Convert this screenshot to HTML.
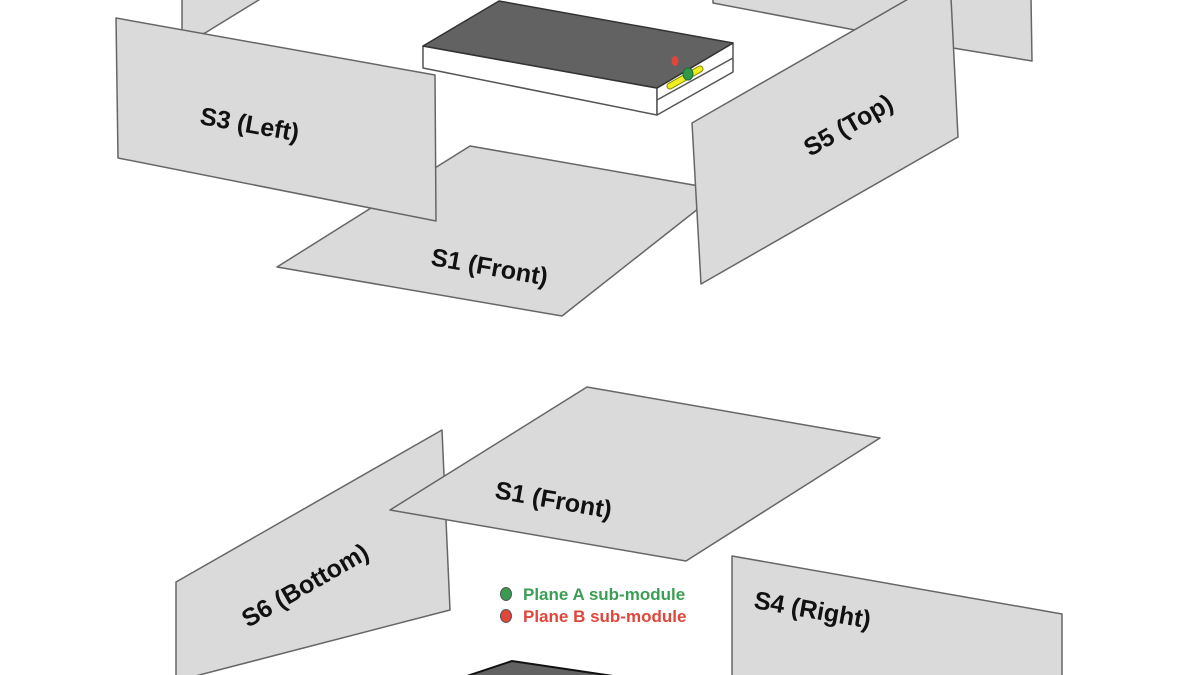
<!DOCTYPE html>
<html><head><meta charset="utf-8"><style>
html,body{margin:0;padding:0;background:#fff;}
svg{display:block;}
text{font-family:"Liberation Sans",sans-serif;font-weight:bold;font-size:25px;fill:#111;}
</style></head><body>
<svg width="1200" height="675" viewBox="0 0 1200 675" xmlns="http://www.w3.org/2000/svg">
<g fill="#dadada" stroke="#666" stroke-width="1.5" stroke-linejoin="round">
  <polygon points="182,-2 182,40 205,33 262,-2"/>
  <polygon points="713,-2 713,3 855,30 960,-2"/>
  <polygon points="950,-2 953,48 1032,61 1031,-2"/>
  <polygon points="277,267 470,146 722,190 562,316"/>
  <polygon points="116,18 435,75 436,221 118,158"/>
  <polygon points="692,123 910,-2 951,-2 958,137 701,284"/>
</g>
<g stroke="#555" stroke-width="1.5" stroke-linejoin="round">
  <polygon points="423,46 657,88 657,115 423,68" fill="#fff"/>
  <polygon points="657,88 733,43 733,72 657,115" fill="#fff"/>
  <line x1="657" y1="100" x2="733" y2="58"/>
  <polygon points="423,46 499,1 733,43 657,88" fill="#626262" stroke="#333"/>
</g>
<line x1="670" y1="86" x2="700" y2="69" stroke="#8a8a00" stroke-width="7" stroke-linecap="round"/>
<line x1="670" y1="86" x2="700" y2="69" stroke="#f0f020" stroke-width="5" stroke-linecap="round"/>
<ellipse cx="688" cy="74" rx="5" ry="6" fill="#2e9a4a" stroke="#1e6e33"/>
<ellipse cx="675" cy="61" rx="3.5" ry="5" fill="#e0463a"/>
<text transform="translate(199,124) rotate(10)">S3 (Left)</text>
<text transform="translate(430,265) rotate(10)">S1 (Front)</text>
<text transform="translate(810,157) rotate(-30)">S5 (Top)</text>

<g fill="#dadada" stroke="#666" stroke-width="1.5" stroke-linejoin="round">
  <polygon points="176,582 442,430 450,610 180,680 176,680"/>
  <polygon points="390,510 587,387 880,438 686,561"/>
  <polygon points="732,556 1062,614 1062,680 732,680"/>
</g>
<polygon points="455,680 512,661 640,680" fill="#626262" stroke="#111" stroke-width="2"/>
<text transform="translate(494,498) rotate(10)">S1 (Front)</text>
<text transform="translate(248,628) rotate(-30)">S6 (Bottom)</text>
<text transform="translate(753,608) rotate(10)">S4 (Right)</text>
<ellipse cx="506" cy="594" rx="5.5" ry="6.5" fill="#3a9a50" stroke="#555"/>
<ellipse cx="506" cy="616" rx="5.5" ry="6.5" fill="#e0463a" stroke="#555"/>
<text x="523" y="600" style="font-size:17px;fill:#3c9e55">Plane A sub-module</text>
<text x="523" y="622" style="font-size:17px;fill:#e0463a">Plane B sub-module</text>
</svg>
</body></html>
